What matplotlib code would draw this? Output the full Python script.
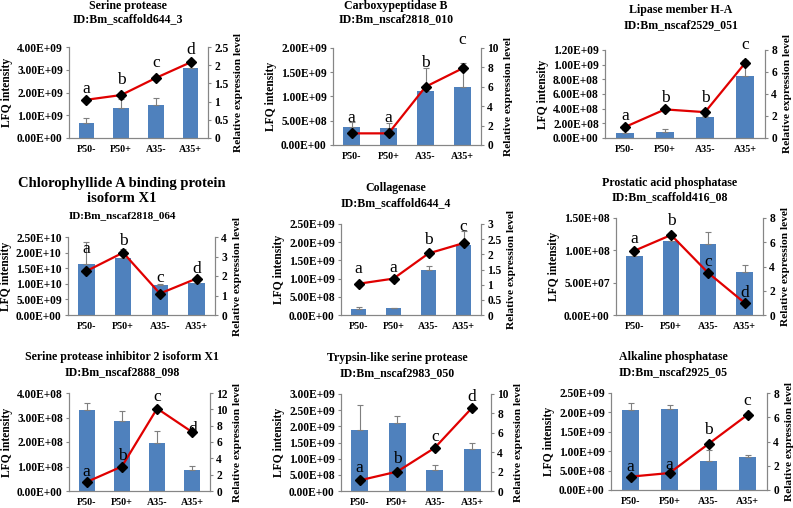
import matplotlib
matplotlib.use('Agg')
import matplotlib.pyplot as plt
import numpy as np

groups = ['P50-', 'P50+', 'A35-', 'A35+']

names = ['Serine protease', 'Carboxypeptidase B', 'Lipase member H-A',
         'Chlorophyllide A binding protein\nisoform X1', 'Collagenase', 'Prostatic acid phosphatase',
         'Serine protease inhibitor 2 isoform X1', 'Trypsin-like serine protease', 'Alkaline phosphatase']
ids = ['ID:Bm_scaffold644_3', 'ID:Bm_nscaf2818_010', 'ID:Bm_nscaf2529_051',
       'ID:Bm_nscaf2818_064', 'ID:Bm_scaffold644_4', 'ID:Bm_scaffold416_08',
       'ID:Bm_nscaf2888_098', 'ID:Bm_nscaf2983_050', 'ID:Bm_nscaf2925_05']

# LFQ intensity (bars) and upper error
lfq_means = [[0.65e9, 1.31e9, 1.45e9, 3.07e9],
             [0.365e9, 0.35e9, 1.12e9, 1.19e9],
             [0.068e9, 0.08e9, 0.28e9, 0.85e9],
             [1.63e10, 1.84e10, 0.96e10, 1.01e10],
             [0.156e9, 0.18e9, 1.24e9, 1.92e9],
             [0.905e8, 1.14e8, 1.10e8, 0.67e8],
             [3.29e8, 2.84e8, 1.95e8, 0.85e8],
             [1.88e9, 2.11e9, 0.64e9, 1.30e9],
             [2.07e9, 2.10e9, 0.75e9, 0.84e9]]
lfq_errs = [[0.25e9, 0.42e9, 0.32e9, 0.35e9],
            [0.10e9, 0.10e9, 0.47e9, 0.51e9],
            [0.04e9, 0.04e9, 0.02e9, 0.22e9],
            [0.71e10, 0.29e10, 0.04e10, 0.02e10],
            [0.07e9, 0.02e9, 0.10e9, 0.38e9],
            [0.065e8, 0.06e8, 0.19e8, 0.11e8],
            [0.30e8, 0.41e8, 0.50e8, 0.19e8],
            [0.79e9, 0.21e9, 0.15e9, 0.19e9],
            [0.16e9, 0.10e9, 0.28e9, 0.06e9]]
lfq_max = [4e9, 2e9, 1.2e9, 2.5e10, 2.5e9, 1.5e8, 4e8, 3e9, 2.5e9]
lfq_step = [1e9, 5e8, 2e8, 5e9, 5e8, 5e7, 1e8, 5e8, 5e8]

# relative expression level (line)
rel_expr = [[1.05, 1.18, 1.65, 2.08],
            [1.2, 1.2, 6.0, 7.9],
            [1.0, 2.6, 2.35, 6.8],
            [2.25, 3.2, 1.1, 1.87],
            [1.03, 1.2, 2.03, 2.37],
            [5.3, 6.6, 3.5, 1.0],
            [1.1, 3.0, 10.1, 7.2],
            [1.1, 2.0, 4.45, 8.6],
            [1.1, 1.4, 3.8, 6.2]]
rel_max = [2.5, 10, 8, 4, 3, 8, 12, 10, 8]
rel_step = [0.5, 2, 2, 1, 0.5, 2, 2, 2, 2]

sig_letters = [['a', 'b', 'c', 'd'], ['a', 'a', 'b', 'c'], ['a', 'b', 'b', 'c'],
               ['a', 'b', 'c', 'd'], ['a', 'a', 'b', 'c'], ['a', 'b', 'c', 'd'],
               ['a', 'b', 'c', 'd'], ['a', 'b', 'c', 'd'], ['a', 'a', 'b', 'c']]
sig_pos = [[1.34, 1.59, 2.05, 2.43],
           [2.76, 2.76, 8.5, 10.8],
           [2.0, 3.6, 3.6, 8.45],
           [3.4, 3.78, 1.9, 2.35],
           [1.52, 1.56, 2.47, 2.89],
           [6.26, 7.72, 4.41, 1.79],
           [2.34, 4.27, 11.5, 7.56],
           [2.38, 3.28, 5.59, 9.72],
           [1.92, 2.05, 4.93, 7.3]]

W, H = 793, 508
# axes boxes in pixels: left, top, right, bottom
boxes = [(69, 47, 208, 138), (333, 48, 481, 145), (605, 50, 765, 138),
         (68, 237, 215, 315), (341, 224, 481, 315), (616, 218, 763, 315),
         (69, 393, 210, 491), (341, 394, 491, 491), (611, 393, 767, 490)]
# title center x, y of the name block, y of the ID line
title_xy = [(128, 6, 19), (396, 6, 19), (681, 10, 25),
            (122, 191, 216), (396, 188, 203), (670, 183, 197),
            (122, 357, 372), (397, 358, 373), (673, 357, 372)]

plt.rcParams['font.family'] = ['Liberation Serif', 'DejaVu Serif']

BLUE = '#4F81BD'
GREY = '#868686'

fig = plt.figure(figsize=(W / 100, H / 100), dpi=100)
x = np.arange(len(groups))

for i in range(9):
    l, t, r, b = boxes[i]
    ax = fig.add_axes([l / W, 1 - b / H, (r - l) / W, (b - t) / H])
    ax2 = ax.twinx()

    ax.bar(x, lfq_means[i], width=0.45, color=BLUE, zorder=2)
    ax.errorbar(x, lfq_means[i], yerr=[np.zeros(4), lfq_errs[i]], fmt='none',
                ecolor='#7F7F7F', elinewidth=0.8, capsize=2.5, capthick=0.8, zorder=3)
    ax.set_xlim(-0.5, 3.5)
    ax.set_ylim(0, lfq_max[i])
    ticks = np.arange(0, lfq_max[i] * 1.0001, lfq_step[i])
    ax.set_yticks(ticks)
    ax.set_yticklabels([f'{v:.2E}' for v in ticks], fontweight='bold', fontsize=8.3)
    ax.set_xticks(x)
    ax.set_xticklabels(groups, fontweight='bold', fontsize=7.2)
    ax.set_ylabel('LFQ intensity', fontweight='bold', fontsize=8.4, labelpad=3)

    ax2.plot(x, rel_expr[i], color='#E00000', lw=1.6, marker='D', ms=4.8,
             mfc='black', mec='black', zorder=4)
    ax2.set_ylim(0, rel_max[i])
    rt = np.arange(0, rel_max[i] * 1.0001, rel_step[i])
    ax2.set_yticks(rt)
    ax2.set_yticklabels([f'{v:g}' for v in rt], fontweight='bold', fontsize=8.3)
    ax2.set_ylabel('Relative expression level', fontweight='bold', fontsize=8.2, labelpad=4)
    for k in range(4):
        ax2.text(x[k], sig_pos[i][k], sig_letters[i][k], ha='center', va='center',
                 fontsize=12.5, zorder=5)

    for a in (ax, ax2):
        a.spines['top'].set_visible(False)
        for s in ('left', 'right', 'bottom'):
            a.spines[s].set_color(GREY)
            a.spines[s].set_linewidth(0.8)
        a.tick_params(axis='y', length=2.5, width=0.8, color=GREY, pad=2)
        a.tick_params(axis='x', length=0, pad=5)

    cx, ty, iy = title_xy[i]
    big = i == 3
    fig.text(cx / W, 1 - ty / H, names[i], ha='center', va='center', fontweight='bold',
             fontsize=10.5 if big else 8.6, linespacing=1.1)
    fig.text(cx / W, 1 - iy / H, ids[i], ha='center', va='center', fontweight='bold',
             fontsize=8.0 if big else 8.6)

fig.savefig('out.png', dpi=100)
